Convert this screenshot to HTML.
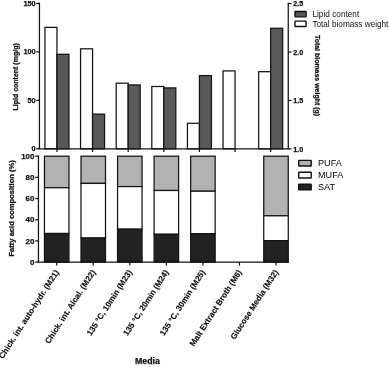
<!DOCTYPE html>
<html><head><meta charset="utf-8"><title>chart</title><style>html,body{margin:0;padding:0;background:#fff;overflow:hidden}body{width:389px;height:367px;position:relative;font-family:"Liberation Sans",sans-serif}</style></head><body>
<svg width="389" height="367" viewBox="0 0 389 367" style="position:absolute;left:0;top:0;will-change:transform" font-family="Liberation Sans, sans-serif" fill="#111">
<rect width="389" height="367" fill="#fff"/>
<rect x="44.95" y="27.4" width="12.0" height="121.40" fill="#fff" stroke="#141414" stroke-width="1.25"/>
<rect x="56.95" y="54.3" width="12.0" height="94.50" fill="#595959" stroke="#141414" stroke-width="1.25"/>
<rect x="80.57" y="48.8" width="12.0" height="100.00" fill="#fff" stroke="#141414" stroke-width="1.25"/>
<rect x="92.57" y="114.1" width="12.0" height="34.70" fill="#595959" stroke="#141414" stroke-width="1.25"/>
<rect x="116.19" y="83.2" width="12.0" height="65.60" fill="#fff" stroke="#141414" stroke-width="1.25"/>
<rect x="128.19" y="84.9" width="12.0" height="63.90" fill="#595959" stroke="#141414" stroke-width="1.25"/>
<rect x="151.81" y="86.5" width="12.0" height="62.30" fill="#fff" stroke="#141414" stroke-width="1.25"/>
<rect x="163.81" y="87.9" width="12.0" height="60.90" fill="#595959" stroke="#141414" stroke-width="1.25"/>
<rect x="187.43" y="123.3" width="12.0" height="25.50" fill="#fff" stroke="#141414" stroke-width="1.25"/>
<rect x="199.43" y="75.6" width="12.0" height="73.20" fill="#595959" stroke="#141414" stroke-width="1.25"/>
<rect x="223.05" y="70.9" width="12.0" height="77.90" fill="#fff" stroke="#141414" stroke-width="1.25"/>
<rect x="258.67" y="71.7" width="12.0" height="77.10" fill="#fff" stroke="#141414" stroke-width="1.25"/>
<rect x="270.67" y="28.3" width="12.0" height="120.50" fill="#595959" stroke="#141414" stroke-width="1.25"/>
<g stroke="#141414" stroke-width="1.25" fill="none">
<path d="M39.45 2.8V148.8H288.25V2.8"/>
<path d="M36.2 148.80H39.45"/>
<path d="M36.2 100.34H39.45"/>
<path d="M36.2 51.87H39.45"/>
<path d="M36.2 3.41H39.45"/>
<path d="M288.25 3.55H291.5"/>
<path d="M288.25 52.00H291.5"/>
<path d="M288.25 100.45H291.5"/>
<path d="M288.25 148.90H291.5"/>
<path d="M56.95 148.8V152"/>
<path d="M92.57 148.8V152"/>
<path d="M128.19 148.8V152"/>
<path d="M163.81 148.8V152"/>
<path d="M199.43 148.8V152"/>
<path d="M235.05 148.8V152"/>
<path d="M270.67 148.8V152"/>
</g>
<rect x="44.45" y="156.2" width="24.5" height="31.50" fill="#b2b2b2" stroke="#141414" stroke-width="1.25"/>
<rect x="44.45" y="187.7" width="24.5" height="45.80" fill="#fff" stroke="#141414" stroke-width="1.25"/>
<rect x="44.45" y="233.5" width="24.5" height="28.60" fill="#222" stroke="#141414" stroke-width="1.25"/>
<rect x="81.00" y="156.2" width="24.5" height="27.20" fill="#b2b2b2" stroke="#141414" stroke-width="1.25"/>
<rect x="81.00" y="183.4" width="24.5" height="54.60" fill="#fff" stroke="#141414" stroke-width="1.25"/>
<rect x="81.00" y="238.0" width="24.5" height="24.10" fill="#222" stroke="#141414" stroke-width="1.25"/>
<rect x="117.55" y="156.2" width="24.5" height="30.40" fill="#b2b2b2" stroke="#141414" stroke-width="1.25"/>
<rect x="117.55" y="186.6" width="24.5" height="42.60" fill="#fff" stroke="#141414" stroke-width="1.25"/>
<rect x="117.55" y="229.2" width="24.5" height="32.90" fill="#222" stroke="#141414" stroke-width="1.25"/>
<rect x="154.10" y="156.2" width="24.5" height="34.30" fill="#b2b2b2" stroke="#141414" stroke-width="1.25"/>
<rect x="154.10" y="190.5" width="24.5" height="43.80" fill="#fff" stroke="#141414" stroke-width="1.25"/>
<rect x="154.10" y="234.3" width="24.5" height="27.80" fill="#222" stroke="#141414" stroke-width="1.25"/>
<rect x="190.65" y="156.2" width="24.5" height="35.00" fill="#b2b2b2" stroke="#141414" stroke-width="1.25"/>
<rect x="190.65" y="191.2" width="24.5" height="42.50" fill="#fff" stroke="#141414" stroke-width="1.25"/>
<rect x="190.65" y="233.7" width="24.5" height="28.40" fill="#222" stroke="#141414" stroke-width="1.25"/>
<rect x="263.75" y="156.2" width="24.5" height="59.60" fill="#b2b2b2" stroke="#141414" stroke-width="1.25"/>
<rect x="263.75" y="215.8" width="24.5" height="24.90" fill="#fff" stroke="#141414" stroke-width="1.25"/>
<rect x="263.75" y="240.7" width="24.5" height="21.40" fill="#222" stroke="#141414" stroke-width="1.25"/>
<g stroke="#141414" stroke-width="1.25" fill="none">
<path d="M38.45 155.6V262.1H289"/>
<path d="M35.2 262.10H38.45"/>
<path d="M35.2 240.92H38.45"/>
<path d="M35.2 219.74H38.45"/>
<path d="M35.2 198.56H38.45"/>
<path d="M35.2 177.38H38.45"/>
<path d="M35.2 156.20H38.45"/>
<path d="M56.70 262.1V265.6"/>
<path d="M93.25 262.1V265.6"/>
<path d="M129.80 262.1V265.6"/>
<path d="M166.35 262.1V265.6"/>
<path d="M202.90 262.1V265.6"/>
<path d="M239.45 262.1V265.6"/>
<path d="M276.00 262.1V265.6"/>
</g>
<g font-weight="bold" stroke="#111" stroke-width="0.25" font-size="7.3" text-anchor="end">
<text x="35.6" y="151.40">0</text>
<text x="35.6" y="102.94">50</text>
<text x="35.6" y="54.47">100</text>
<text x="35.6" y="6.01">150</text>
</g>
<g font-weight="bold" stroke="#111" stroke-width="0.25" font-size="7.9" text-anchor="end">
<text x="34.3" y="264.85">0</text>
<text x="34.3" y="243.67">20</text>
<text x="34.3" y="222.49">40</text>
<text x="34.3" y="201.31">60</text>
<text x="34.3" y="180.13">80</text>
<text x="34.3" y="158.95">100</text>
</g>
<g font-weight="bold" stroke="#111" stroke-width="0.25" font-size="7.2">
<text x="293.2" y="6.15">2.5</text>
<text x="293.2" y="54.60">2.0</text>
<text x="293.2" y="103.05">1.5</text>
<text x="293.2" y="151.50">1.0</text>
</g>
<text transform="translate(17.5 76.9) rotate(-90)" text-anchor="middle" font-weight="bold" stroke="#111" stroke-width="0.25" font-size="7.0">Lipid content (mg/g)</text>
<text transform="translate(13.5 208.35) rotate(-90)" text-anchor="middle" font-weight="bold" stroke="#111" stroke-width="0.25" font-size="7.58">Fatty acid composition (%)</text>
<text transform="translate(314.8 75.5) rotate(90)" text-anchor="middle" font-weight="bold" stroke="#111" stroke-width="0.25" font-size="6.97">Total biomass weight (g)</text>
<text x="147.4" y="363.9" text-anchor="middle" font-weight="bold" stroke="#111" stroke-width="0.25" font-size="8.8">Media</text>
<text transform="translate(59.30 272.1) rotate(-57.2)" text-anchor="end" font-weight="bold" stroke="#111" stroke-width="0.15" font-size="8.15">Chick. int. auto-hydr. (M21)</text>
<text transform="translate(95.85 272.1) rotate(-57.2)" text-anchor="end" font-weight="bold" stroke="#111" stroke-width="0.15" font-size="8.15">Chick. int. Alcal. (M22)</text>
<text transform="translate(132.40 272.1) rotate(-57.2)" text-anchor="end" font-weight="bold" stroke="#111" stroke-width="0.15" font-size="8.15">135 °C, 10min (M23)</text>
<text transform="translate(168.95 272.1) rotate(-57.2)" text-anchor="end" font-weight="bold" stroke="#111" stroke-width="0.15" font-size="8.15">135 °C, 20min (M24)</text>
<text transform="translate(205.50 272.1) rotate(-57.2)" text-anchor="end" font-weight="bold" stroke="#111" stroke-width="0.15" font-size="8.15">135 °C, 30min (M25)</text>
<text transform="translate(242.05 272.1) rotate(-57.2)" text-anchor="end" font-weight="bold" stroke="#111" stroke-width="0.15" font-size="8.15">Malt Extract Broth (M6)</text>
<text transform="translate(278.60 272.1) rotate(-57.2)" text-anchor="end" font-weight="bold" stroke="#111" stroke-width="0.15" font-size="8.15">Glucose Media (M32)</text>
<rect x="295" y="11.55" width="11.1" height="5.3" rx="0.5" fill="#595959" stroke="#111" stroke-width="1.4"/>
<rect x="295" y="21.15" width="11.1" height="5.3" rx="0.5" fill="#fff" stroke="#111" stroke-width="1.4"/>
<text x="312.4" y="17" font-size="8.27">Lipid content</text>
<text x="312.4" y="26.5" font-size="8.2">Total biomass weight</text>
<rect x="298.7" y="160.35" width="12.5" height="5.65" rx="0.5" fill="#b2b2b2" stroke="#111" stroke-width="1.4"/>
<text x="318" y="166.30" font-size="9.15" fill="#000">PUFA</text>
<rect x="298.7" y="172.30" width="12.5" height="5.65" rx="0.5" fill="#fff" stroke="#111" stroke-width="1.4"/>
<text x="318" y="178.25" font-size="9.15" fill="#000">MUFA</text>
<rect x="298.7" y="184.25" width="12.5" height="5.65" rx="0.5" fill="#222" stroke="#111" stroke-width="1.4"/>
<text x="318" y="190.20" font-size="9.15" fill="#000">SAT</text>
</svg>
</body></html>
